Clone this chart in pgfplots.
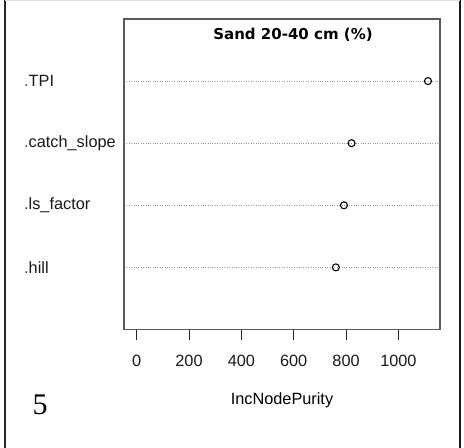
\documentclass[border=0pt]{standalone}
\usepackage{pgfplots}
\pgfplotsset{compat=1.18}
\usepackage{fontspec}
\setmainfont{Liberation Sans}
\newfontfamily\titlefont{DejaVu Sans}
\newfontfamily\panelfont{Liberation Serif}
\definecolor{boxgray}{RGB}{90,90,90}
\definecolor{dotblue}{RGB}{40,70,150}
\newcommand{\lbl}[1]{{\color{dotblue}.}#1}
\begin{document}
\begin{tikzpicture}
\path[use as bounding box] (0,0) rectangle (464bp,448bp);
% outer panel frame
\draw[black!85, line width=2bp] (4.5bp,0) -- (4.5bp,447.5bp);
\draw[black!90, line width=2bp] (460bp,0) -- (460bp,447.5bp);
\draw[black!12, line width=1bp] (4.5bp,447.5bp) -- (460bp,447.5bp);
\begin{axis}[
  at={(124bp,118.5bp)}, anchor=south west,
  scale only axis, width=316bp, height=310.5bp,
  xmin=-48.5, xmax=1159, ymin=0, ymax=5,
  xtick={0,200,400,600,800,1000},
  ytick={1,2,3,4},
  yticklabels={\lbl{hill},\lbl{ls\_factor},\lbl{catch\_slope},\lbl{TPI}},
  axis line style={draw=boxgray, line width=1.3bp},
  tick align=outside, xtick pos=bottom, ytick pos=left,
  major tick length=10bp,
  xtick style={draw=black!85, line width=0.9bp},
  ytick style={draw=none},
  ymajorgrids, grid style={dotted, black!40, line width=0.7bp},
  /pgf/number format/assume math mode=true,
  /pgf/number format/1000 sep={},
  tick label style={font=\fontsize{16.3bp}{19bp}\selectfont, text=black!90},
  xticklabel style={yshift=-12bp},
  yticklabel style={anchor=west, inner xsep=0pt, xshift=-90bp},
  xlabel={IncNodePurity},
  every axis x label/.style={at={(axis description cs:0.5,0)}, anchor=center,
    yshift=-70.5bp, font=\fontsize{16.3bp}{19bp}\selectfont},
  title={\titlefont\bfseries Sand 20-40 cm (\%)},
  every axis title/.style={at={(axis description cs:0.5,1)}, anchor=center,
    yshift=-16bp, xshift=11bp, font=\fontsize{15bp}{18bp}\selectfont},
]
\addplot[only marks, mark=o, mark size=3.5bp, mark options={line width=1.1bp, draw=black}]
  coordinates {(761,1) (792,2) (821,3) (1113,4)};
\end{axis}
\node[font=\panelfont\fontsize{30bp}{34bp}\selectfont, anchor=center] at (40bp,43bp) {5};
\end{tikzpicture}
\end{document}
